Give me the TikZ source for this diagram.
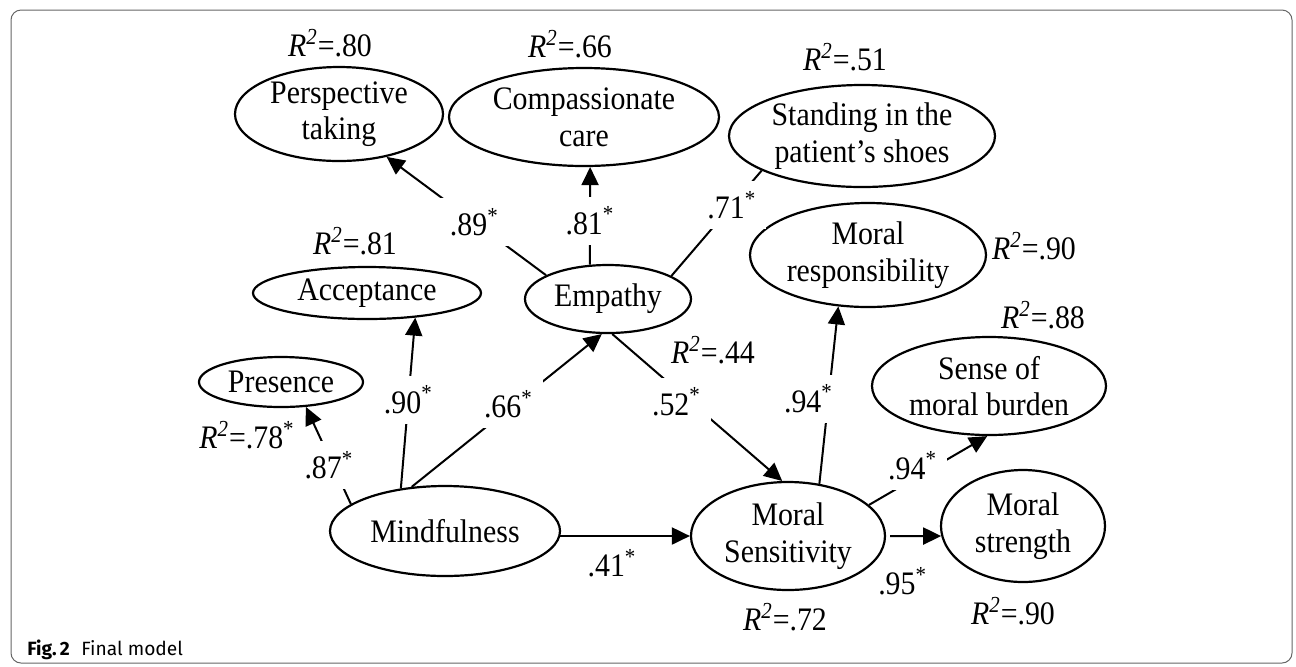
\documentclass[tikz,border=0pt]{standalone}
\usepackage{fontspec}
\setmainfont{Liberation Serif}[FakeStretch=0.91]
\setsansfont{Fira Sans}
\usetikzlibrary{shapes.geometric,arrows.meta}

\tikzset{
  latent/.style={ellipse,draw,line width=1.1pt,inner xsep=0pt,inner ysep=-3pt,align=center},
  effect/.style={line width=1pt,-{Triangle[length=9pt,width=8.5pt]}},
  coef/.style={fill=white,inner sep=5pt},
}
\newcommand{\rtwo}[1]{\textit{R}\textsuperscript{\textit{2}}=#1}
\newcommand{\est}[1]{#1\textsuperscript{*}}

\begin{document}
\begin{tikzpicture}[x=0.5pt,y=-0.5pt,font=\fontsize{16.4}{18.3}\selectfont]
\useasboundingbox (0,0) rectangle (1296,666);
\draw[black!60,line width=0.5pt,rounded corners=5pt] (11,10) rectangle (1292,663);

% latent variables
\node[latent,minimum width=104pt,minimum height=47pt] (persp) at (339,114) {Perspective\\taking};
\node[latent,minimum width=135pt,minimum height=49pt] (comp) at (584,117) {Compassionate\\care};
\node[latent,minimum width=133pt,minimum height=51pt] (stand) at (862,136) {Standing in the\\patient’s shoes};
\node[latent,minimum width=114pt,minimum height=26pt] (accept) at (367,293) {Acceptance};
\node[latent,minimum width=83pt,minimum height=34pt] (emp) at (608,299) {Empathy};
\node[latent,minimum width=118pt,minimum height=52pt] (resp) at (868,255) {Moral\\responsibility};
\node[latent,minimum width=82pt,minimum height=25pt] (pres) at (281,382) {Presence};
\node[latent,minimum width=117pt,minimum height=49pt] (burden) at (989,386) {Sense of\\moral burden};
\node[latent,minimum width=115pt,minimum height=45pt] (mind) at (445,531) {Mindfulness};
\node[latent,minimum width=97pt,minimum height=54pt] (sens) at (788,536) {Moral\\Sensitivity};
\node[latent,minimum width=82pt,minimum height=56pt] (strength) at (1023,526) {Moral\\strength};

% explained variance
\node (r2persp) at (330,43) {\rtwo{.80}};
\node (r2comp) at (570,44) {\rtwo{.66}};
\node (r2stand) at (845,57) {\rtwo{.51}};
\node (r2accept) at (355,241) {\rtwo{.81}};
\node (r2resp) at (1034,246) {\rtwo{.90}};
\node (r2burden) at (1043,315) {\rtwo{.88}};
\node (r2emp) at (713,350) {\rtwo{.44}};
\node (r2pres) at (247,435) {\rtwo{.78}\textsuperscript{*}};
\node (r2sens) at (785,617) {\rtwo{.72}};
\node (r2strength) at (1013,611) {\rtwo{.90}};

% paths
\draw[effect] (emp.159) -- node[coef,pos=0.45] {\est{.89}} (persp.-42);
\draw[effect] (emp.118) -- node[coef,pos=0.45] {\est{.81}} (comp.-83);
\draw[line width=1pt] (emp.20) -- node[coef,pos=0.67] {\est{.71}} (stand.199);
\draw[effect] (mind.136) -- node[coef,pos=0.52] {\est{.90}} (accept.-27);
\draw[effect] (mind.164) -- node[coef,pos=0.4,xshift=-2pt] {\est{.87}} (pres.-45);
\draw[effect] (mind.127) -- node[coef,pos=0.54,xshift=-3pt] {\est{.66}} (emp.260);
\draw[effect] (emp.-83) -- node[coef,pos=0.46,xshift=-7pt] {\est{.52}} (sens.96);
\draw[effect] (mind.-3 |- sens.west) -- node[below=5pt,pos=0.4,inner sep=1pt] {\est{.41}} (sens.west);
\draw[effect] (sens.59) -- node[coef,pos=0.48,xshift=-10pt] {\est{.94}} (resp.240);
\draw[effect] (sens.21) -- node[coef,pos=0.47,xshift=-6pt,yshift=3.5pt] {\est{.94}} (burden.268);
\draw[effect,shorten <=2pt] (sens.east) -- node[below=14pt,pos=0.3,inner sep=1pt] {\est{.95}} (strength.187);

\node[anchor=base west,inner sep=0pt,font=\sffamily\fontsize{9.6}{11}\selectfont] (caption) at (27,655) {\textbf{Fig.\,2}\hspace{0.6em}Final model};
\end{tikzpicture}
\end{document}
